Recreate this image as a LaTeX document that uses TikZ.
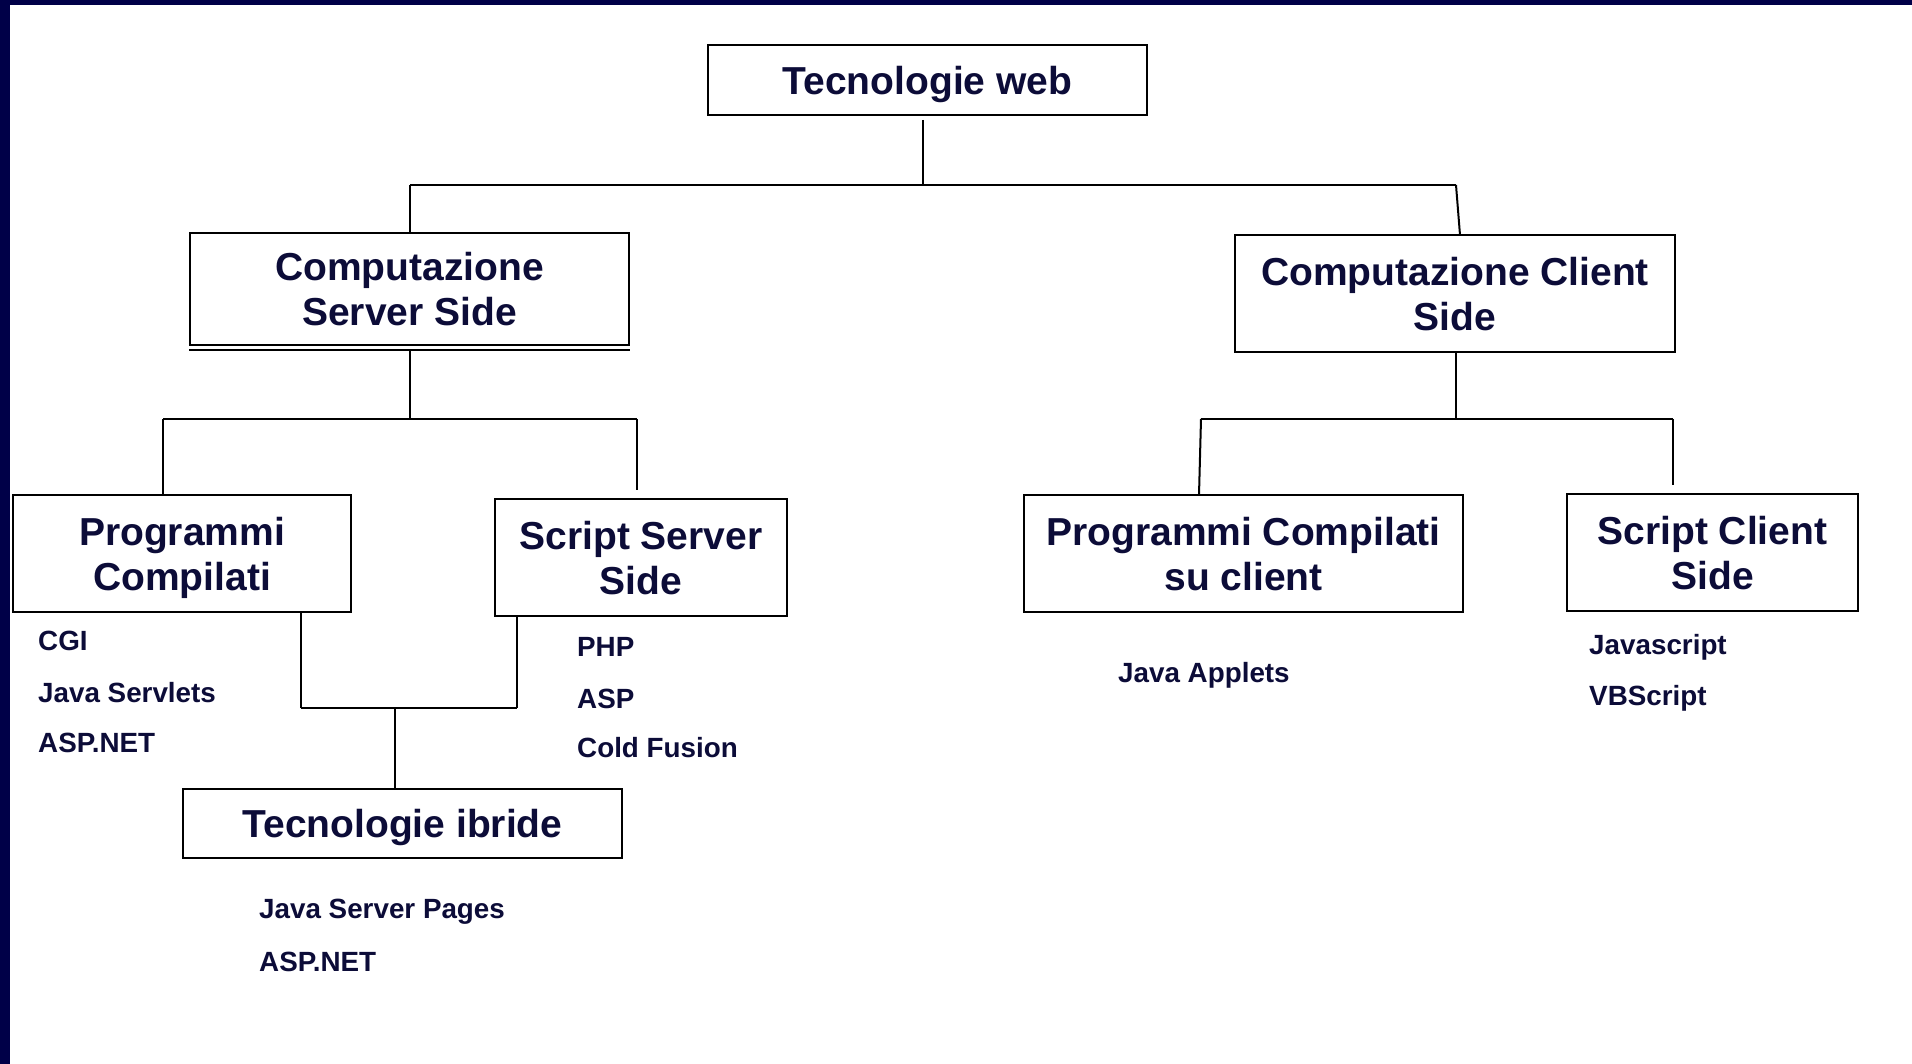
\documentclass[tikz,border=0pt]{standalone}
\usepackage{fontspec}
\setmainfont{Liberation Sans}
\definecolor{navytext}{RGB}{12,12,56}
\definecolor{navyframe}{RGB}{0,0,72}
\begin{document}
\begin{tikzpicture}[x=1pt,y=-1pt,
  titlebox/.style={draw=black, line width=2pt, inner sep=0pt, align=center,
    text depth=0pt, text=navytext, font=\fontsize{39}{45}\selectfont\bfseries},
  itemlabel/.style={anchor=base west, inner sep=0pt, text=navytext,
    font=\fontsize{27.8}{33}\selectfont\bfseries},
  conn/.style={draw=black, line width=2pt}
]
\useasboundingbox (0,0) rectangle (1912,1064);
\fill[white] (0,0) rectangle (1912,1064);
\fill[navyframe] (0,0) rectangle (1912,5);
\fill[navyframe] (0,0) rectangle (10,1064);

% boxes
\node[titlebox, minimum width=439pt, minimum height=70pt] (web) at (927.5,80) {Tecnologie web};
\node[titlebox, minimum width=439pt, minimum height=112pt] (server) at (409.5,289) {Computazione\\Server Side};
\node[titlebox, minimum width=440pt, minimum height=117pt] (client) at (1455,293.5) {Computazione Client\\Side};
\node[titlebox, minimum width=338pt, minimum height=117pt] (pc) at (182,553.5) {Programmi\\Compilati};
\node[titlebox, minimum width=292pt, minimum height=117pt] (ss) at (641,557.5) {Script Server\\Side};
\node[titlebox, minimum width=439pt, minimum height=117pt] (pcc) at (1243.5,553.5) {Programmi Compilati\\su client};
\node[titlebox, minimum width=291pt, minimum height=117pt] (scs) at (1712.5,552.5) {Script Client\\Side};
\node[titlebox, minimum width=439pt, minimum height=69pt] (ibr) at (402.5,823.5) {Tecnologie ibride};
\coordinate (sbL) at ([yshift=-4pt]server.south west);
\coordinate (sbR) at ([yshift=-4pt]server.south east);
\draw[conn] (sbL) -- (sbR);

% item labels
\node[itemlabel] (cgi) at (38,650) {CGI};
\node[itemlabel] (jserv) at (38,702) {Java Servlets};
\node[itemlabel] (aspnet1) at (38,752) {ASP.NET};
\node[itemlabel] (php) at (577,656) {PHP};
\node[itemlabel] (asp) at (577,708) {ASP};
\node[itemlabel] (cold) at (577,757) {Cold Fusion};
\node[itemlabel] (japp) at (1118,682) {Java Applets};
\node[itemlabel] (js) at (1589,654) {Javascript};
\node[itemlabel] (vbs) at (1589,705) {VBScript};
\node[itemlabel] (jsp) at (259,918) {Java Server Pages};
\node[itemlabel] (aspnet2) at (259,971) {ASP.NET};

% junction coordinates
\coordinate (wt) at (923,120);
\coordinate (h1M) at (923,185);
\coordinate (h1L) at (410,185);
\coordinate (h1R) at (1456,185);
\coordinate (ct) at (1460,235);
\coordinate (h2M) at (410,419);
\coordinate (h2L) at (163,419);
\coordinate (h2R) at (637,419);
\coordinate (ssTop) at (637,490);
\coordinate (h3M) at (1456,419);
\coordinate (h3L) at (1201,419);
\coordinate (h3R) at (1673,419);
\coordinate (pccTop) at (1199,495);
\coordinate (scsTop) at (1673,485);
\coordinate (pcB) at (301,612);
\coordinate (ssB) at (517,616);
\coordinate (h4L) at (301,708);
\coordinate (h4R) at (517,708);
\coordinate (h4M) at (395,708);

% connectors
\draw[conn] (wt) -- (h1M);
\draw[conn] (h1L) -- (h1R);
\draw[conn] (h1L) -- (h1L |- server.north);
\draw[conn] (h1R) -- (ct);
\draw[conn] (h2M |- sbL) -- (h2M);
\draw[conn] (h2L) -- (h2R);
\draw[conn] (h2L) -- (h2L |- pc.north);
\draw[conn] (h2R) -- (ssTop);
\draw[conn] (client.south -| h3M) -- (h3M);
\draw[conn] (h3L) -- (h3R);
\draw[conn] (h3L) -- (pccTop);
\draw[conn] (h3R) -- (scsTop);
\draw[conn] (pcB) -- (h4L);
\draw[conn] (ssB) -- (h4R);
\draw[conn] (h4L) -- (h4R);
\draw[conn] (h4M) -- (h4M |- ibr.north);
\end{tikzpicture}
\end{document}
